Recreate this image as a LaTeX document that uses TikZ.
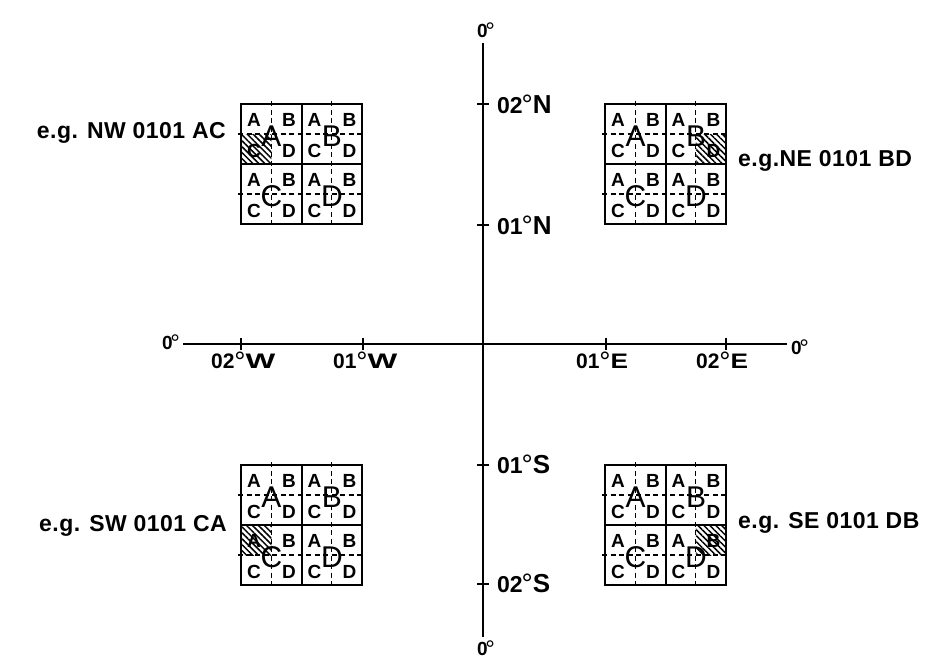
\documentclass[tikz,border=0pt]{standalone}
\usepackage{fontspec}
\setmainfont{Liberation Sans}
\newfontfamily\egfont[LetterSpace=2]{Liberation Sans}
\usetikzlibrary{patterns.meta}
% degree sign: #1 size, #2 raise, #3 box width
\newcommand\degsign[3]{\makebox[#3][c]{\raisebox{#2}{\fontsize{#1}{#1}\selectfont °}}}
\newcommand\hlabtext[3]{{\bfseries\fontsize{21}{21}\selectfont #1}\kern1pt\degsign{28}{-3pt}{9pt}\kern1pt{\bfseries\fontsize{21}{21}\selectfont\scalebox{#3}[1]{#2}}}
\newcommand\vlabtext[2]{{\bfseries\fontsize{23}{23}\selectfont #1}\degsign{28}{-1pt}{9pt}\kern1pt{\bfseries\fontsize{26}{26}\selectfont #2}}
\newcommand\zerotext{{\bfseries\fontsize{19}{19}\selectfont 0}\kern-1pt\degsign{24}{-2pt}{7pt}}
% quarter-degree grid: #1 name, #2 x, #3 y, #4 hatched quadrant corner
\newcommand\quadgrid[4]{%
\begin{scope}[shift={(#2,#3)}]
  \fill[hatch] #4 rectangle ++(30.25,30);
  \foreach \d in {30.25,90.75}{\draw[dashline] (\d,-3) -- (\d,123);}
  \foreach \d in {30,90}{\draw[dashline] (-3,\d) -- (124,\d);}
  \draw[innerline] (60.5,0) -- (60.5,120) (0,60) -- (121,60);
  \draw[outerbox] (0,0) rectangle (121,120);
  \foreach \L/\sx/\sy in {A/0/0,B/60.5/0,C/0/60,D/60.5/60}{
    \node[bigl] (#1-\L) at (\sx+30.5,\sy+32) {\L};
    \foreach \l/\qx/\qy in {A/13/16,B/48/16,C/13/47,D/48/47}{
      \node[smalll] (#1-\L-\l) at (\sx+\qx,\sy+\qy) {\l};
    }
  }
\end{scope}}
\begin{document}
\begin{tikzpicture}[x=1pt,y=-1pt,
  axisline/.style={line width=2pt},
  tickline/.style={line width=2pt},
  outerbox/.style={line width=2.5pt},
  innerline/.style={line width=2pt},
  dashline/.style={line width=1.4pt,dash pattern=on 5pt off 3.5pt},
  hatch/.style={pattern={Lines[angle=-45,distance=4.2pt,line width=1.5pt]},pattern color=black},
  smalll/.style={font=\bfseries\fontsize{19}{19}\selectfont,inner sep=0pt},
  bigl/.style={font=\fontsize{30}{30}\selectfont,inner sep=0pt},
  eglabel/.style={font=\egfont\bfseries\fontsize{23}{23}\selectfont,inner sep=0pt},
  axlab/.style={anchor=base west,inner sep=0pt}
]
\useasboundingbox (0,0) rectangle (929,665);
% axes
\coordinate (axT) at (483,43);
\coordinate (axB) at (483,637);
\coordinate (axL) at (183,344);
\coordinate (axR) at (787,344);
\draw[axisline] (axL) -- (axR);
\draw[axisline] (axT) -- (axB);
% ticks
\foreach \x in {241,363,606,726}{\draw[tickline] (\x,338) -- (\x,350);}
\foreach \y in {104,225,465,584}{\draw[tickline] (477,\y) -- (489,\y);}
% zero labels
\node[axlab] (z0T) at (477,37) {\zerotext};
\node[axlab] (z0B) at (477,655) {\zerotext};
\node[axlab] (z0L) at (162,349) {\zerotext};
\node[axlab] (z0R) at (791,354) {\zerotext};
% horizontal axis labels
\node[axlab] (l02W) at (211,368) {\hlabtext{02}{W}{1.5}};
\node[axlab] (l01W) at (333,368) {\hlabtext{01}{W}{1.5}};
\node[axlab] (l01E) at (576,368) {\hlabtext{01}{E}{1.25}};
\node[axlab] (l02E) at (696,368) {\hlabtext{02}{E}{1.25}};
% vertical axis labels
\node[axlab] (l02N) at (497,113) {\vlabtext{02}{N}};
\node[axlab] (l01N) at (497,234) {\vlabtext{01}{N}};
\node[axlab] (l01S) at (497,473) {\vlabtext{01}{S}};
\node[axlab] (l02S) at (497,592) {\vlabtext{02}{S}};
% grids
\quadgrid{NW}{241}{104}{(0,30)}
\quadgrid{NE}{605}{104}{(90.75,30)}
\quadgrid{SW}{241}{465}{(0,60)}
\quadgrid{SE}{605}{465}{(90.75,60)}
% example labels
\node[eglabel,anchor=base east] (egNW) at (226,138) {e.g. NW 0101 AC};
\node[eglabel,anchor=base west] (egNE) at (738,166) {e.g.NE 0101 BD};
\node[eglabel,anchor=base east] (egSW) at (227,531) {e.g. SW 0101 CA};
\node[eglabel,anchor=base west] (egSE) at (738,528) {e.g. SE 0101 DB};
\end{tikzpicture}
\end{document}
